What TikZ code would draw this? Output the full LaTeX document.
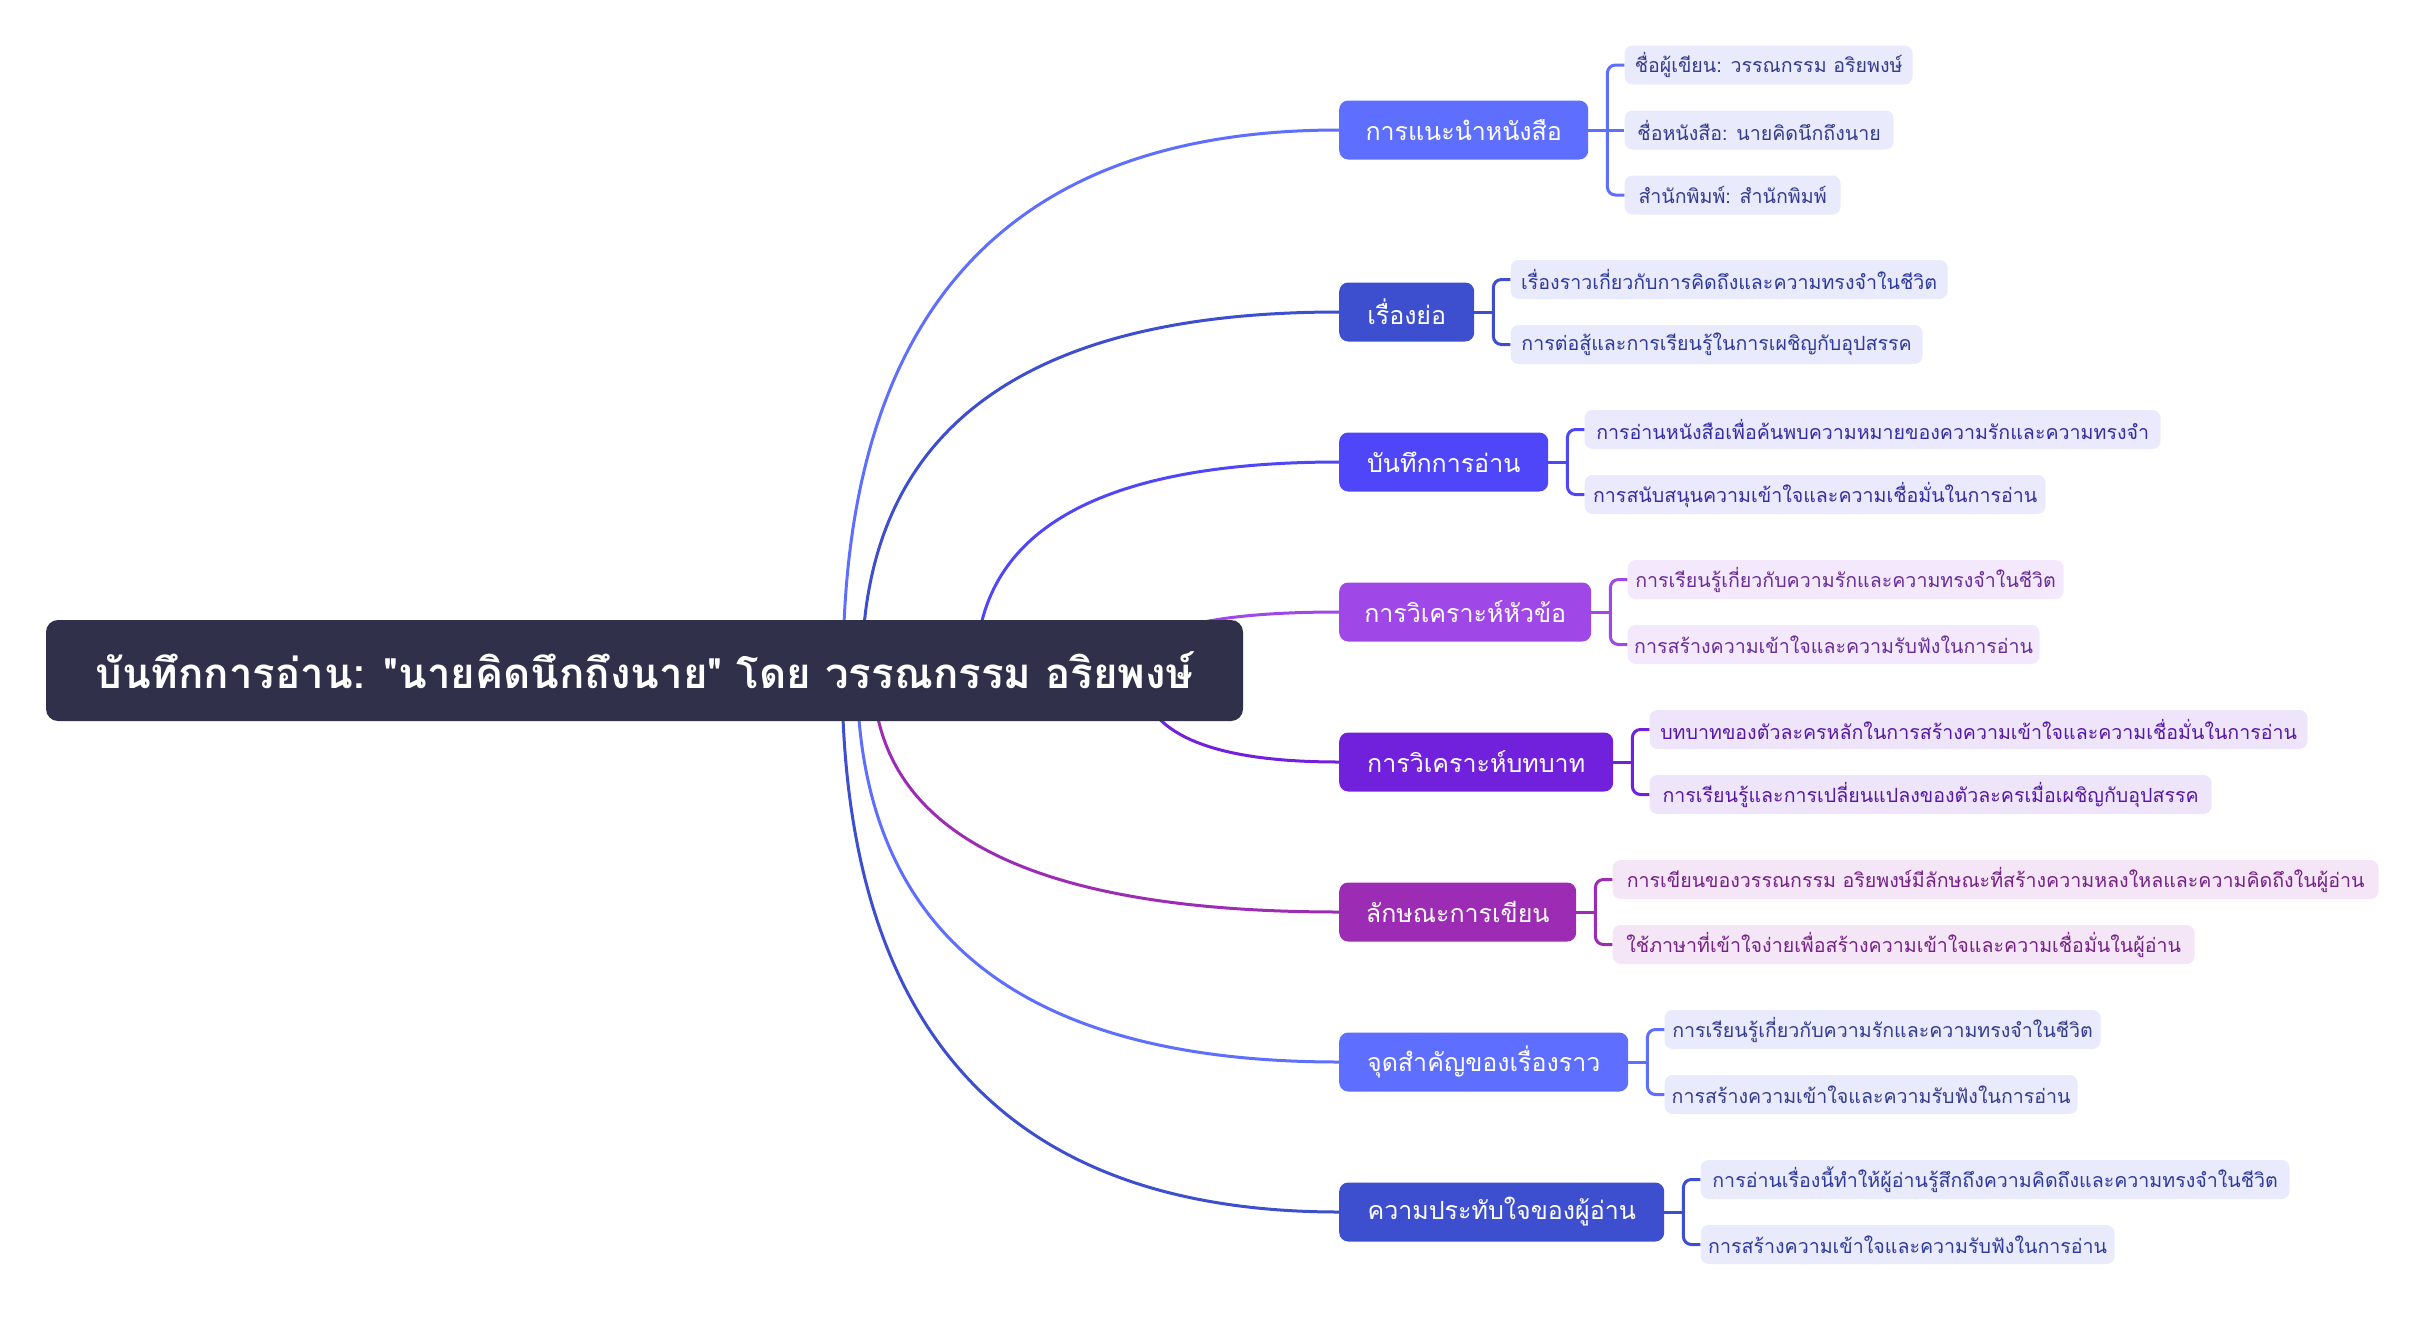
\documentclass[tikz,border=0pt]{standalone}
\usepackage{fontspec}
\setmainfont{Loma}[Script=Thai, Ligatures=TeXOff]
\usetikzlibrary{backgrounds,calc}
\definecolor{rootc}{RGB}{48,48,75}
\definecolor{cA}{RGB}{94,110,255}
\definecolor{cB}{RGB}{61,78,207}
\definecolor{cC}{RGB}{79,70,250}
\definecolor{cD}{RGB}{160,71,232}
\definecolor{cE}{RGB}{113,32,220}
\definecolor{cF}{RGB}{156,44,180}
\definecolor{fA}{RGB}{233,234,252}
\definecolor{fC}{RGB}{235,233,253}
\definecolor{fD}{RGB}{244,232,252}
\definecolor{fE}{RGB}{239,229,251}
\definecolor{fF}{RGB}{244,230,246}
\begin{document}
\begin{tikzpicture}[x=1pt,y=-1pt,
  rootbox/.style={fill=rootc, rounded corners=12pt, text=white, font=\fontsize{42pt}{48pt}\selectfont\bfseries, minimum width=1197pt, minimum height=101pt, inner sep=0pt},
  branchbox/.style={rounded corners=9pt, text=white, font=\fontsize{25pt}{30pt}\selectfont, minimum height=59pt, inner sep=0pt, anchor=west},
  childbox/.style={rounded corners=8pt, font=\fontsize{19.6pt}{24pt}\selectfont, minimum height=39pt, inner sep=0pt, anchor=west},
  kidA/.style={childbox, fill=fA, text=cA!55!black},
  kidB/.style={childbox, fill=fA, text=cB!75!black},
  kidC/.style={childbox, fill=fC, text=cC!65!black},
  kidD/.style={childbox, fill=fD, text=cD!65!black},
  kidE/.style={childbox, fill=fE, text=cE!75!black},
  kidF/.style={childbox, fill=fF, text=cF!75!black},
  link/.style={line width=3pt},
  bracket/.style={line width=3pt, rounded corners=8pt}
]
\useasboundingbox (0,0) rectangle (2425,1325);

% root
\node[rootbox] (root) at (644.5,670.5) {บันทึกการอ่าน: "นายคิดนึกถึงนาย" โดย วรรณกรรม อริยพงษ์};

% branches
\node[branchbox, fill=cA, minimum width=249pt] (b1) at (1339,130) {การแนะนำหนังสือ};
\node[branchbox, fill=cB, minimum width=135pt] (b2) at (1339,312) {เรื่องย่อ};
\node[branchbox, fill=cC, minimum width=209pt] (b3) at (1339,462) {บันทึกการอ่าน};
\node[branchbox, fill=cD, minimum width=252pt] (b4) at (1339,612) {การวิเคราะห์หัวข้อ};
\node[branchbox, fill=cE, minimum width=274pt] (b5) at (1339,762) {การวิเคราะห์บทบาท};
\node[branchbox, fill=cF, minimum width=237pt] (b6) at (1339,912) {ลักษณะการเขียน};
\node[branchbox, fill=cA, minimum width=289pt] (b7) at (1339,1062) {จุดสำคัญของเรื่องราว};
\node[branchbox, fill=cB, minimum width=325pt] (b8) at (1339,1212) {ความประทับใจของผู้อ่าน};

% children
\node[kidA, minimum width=288pt] (c11) at ($(b1.east)+(36,-65)$) {ชื่อผู้เขียน: วรรณกรรม อริยพงษ์};
\node[kidA, minimum width=269pt] (c12) at ($(b1.east)+(36,0)$) {ชื่อหนังสือ: นายคิดนึกถึงนาย};
\node[kidA, minimum width=216pt] (c13) at ($(b1.east)+(36,65)$) {สำนักพิมพ์: สำนักพิมพ์};

\node[kidB, minimum width=437pt] (c21) at ($(b2.east)+(36,-32.5)$) {เรื่องราวเกี่ยวกับการคิดถึงและความทรงจำในชีวิต};
\node[kidB, minimum width=412pt] (c22) at ($(b2.east)+(36,32.5)$) {การต่อสู้และการเรียนรู้ในการเผชิญกับอุปสรรค};

\node[kidC, minimum width=576pt] (c31) at ($(b3.east)+(36,-32.5)$) {การอ่านหนังสือเพื่อค้นพบความหมายของความรักและความทรงจำ};
\node[kidC, minimum width=461pt] (c32) at ($(b3.east)+(36,32.5)$) {การสนับสนุนความเข้าใจและความเชื่อมั่นในการอ่าน};

\node[kidD, minimum width=436pt] (c41) at ($(b4.east)+(36,-32.5)$) {การเรียนรู้เกี่ยวกับความรักและความทรงจำในชีวิต};
\node[kidD, minimum width=412pt] (c42) at ($(b4.east)+(36,32.5)$) {การสร้างความเข้าใจและความรับฟังในการอ่าน};

\node[kidE, minimum width=658pt] (c51) at ($(b5.east)+(36,-32.5)$) {บทบาทของตัวละครหลักในการสร้างความเข้าใจและความเชื่อมั่นในการอ่าน};
\node[kidE, minimum width=562pt] (c52) at ($(b5.east)+(36,32.5)$) {การเรียนรู้และการเปลี่ยนแปลงของตัวละครเมื่อเผชิญกับอุปสรรค};

\node[kidF, minimum width=766pt] (c61) at ($(b6.east)+(36,-32.5)$) {การเขียนของวรรณกรรม อริยพงษ์มีลักษณะที่สร้างความหลงใหลและความคิดถึงในผู้อ่าน};
\node[kidF, minimum width=582pt] (c62) at ($(b6.east)+(36,32.5)$) {ใช้ภาษาที่เข้าใจง่ายเพื่อสร้างความเข้าใจและความเชื่อมั่นในผู้อ่าน};

\node[kidA, minimum width=436pt] (c71) at ($(b7.east)+(36,-32.5)$) {การเรียนรู้เกี่ยวกับความรักและความทรงจำในชีวิต};
\node[kidA, minimum width=413pt] (c72) at ($(b7.east)+(36,32.5)$) {การสร้างความเข้าใจและความรับฟังในการอ่าน};

\node[kidB, minimum width=589pt] (c81) at ($(b8.east)+(36,-32.5)$) {การอ่านเรื่องนี้ทำให้ผู้อ่านรู้สึกถึงความคิดถึงและความทรงจำในชีวิต};
\node[kidB, minimum width=414pt] (c82) at ($(b8.east)+(36,32.5)$) {การสร้างความเข้าใจและความรับฟังในการอ่าน};

% brackets
\foreach \b/\f/\l/\col in {b1/c11/c13/cA, b2/c21/c22/cB, b3/c31/c32/cC, b4/c41/c42/cD, b5/c51/c52/cE, b6/c61/c62/cF, b7/c71/c72/cA, b8/c81/c82/cB}{
  \coordinate (k-\b) at ($(\f.west)+(-17,0)$);
  \draw[bracket, \col] (\f.west) -- (k-\b) |- (\l.west);
  \draw[bracket, \col] (\b.east) -- (\b.east -| k-\b);
}
\draw[bracket, cA] (b1.east) -- (c12.west);

% curves from root
\coordinate (s1) at (843,671);
\coordinate (s2) at (862,671);
\coordinate (s3) at (976,671);
\coordinate (s4) at (1132,671);
\coordinate (s5) at (1140,671);
\coordinate (s6) at (873,671);
\coordinate (s7) at (857,671);
\coordinate (s8) at (842,671);
\begin{scope}[on background layer]
\foreach \i/\col in {1/cA, 2/cB, 3/cC, 4/cD, 5/cE, 6/cF, 7/cA, 8/cB}{
  \draw[link, \col] (s\i) .. controls ($(s\i)!0.6667!(s\i |- b\i.west)$) and ($(b\i.west)!0.6667!(s\i |- b\i.west)$) .. (b\i.west);
}
\end{scope}
\end{tikzpicture}
\end{document}
